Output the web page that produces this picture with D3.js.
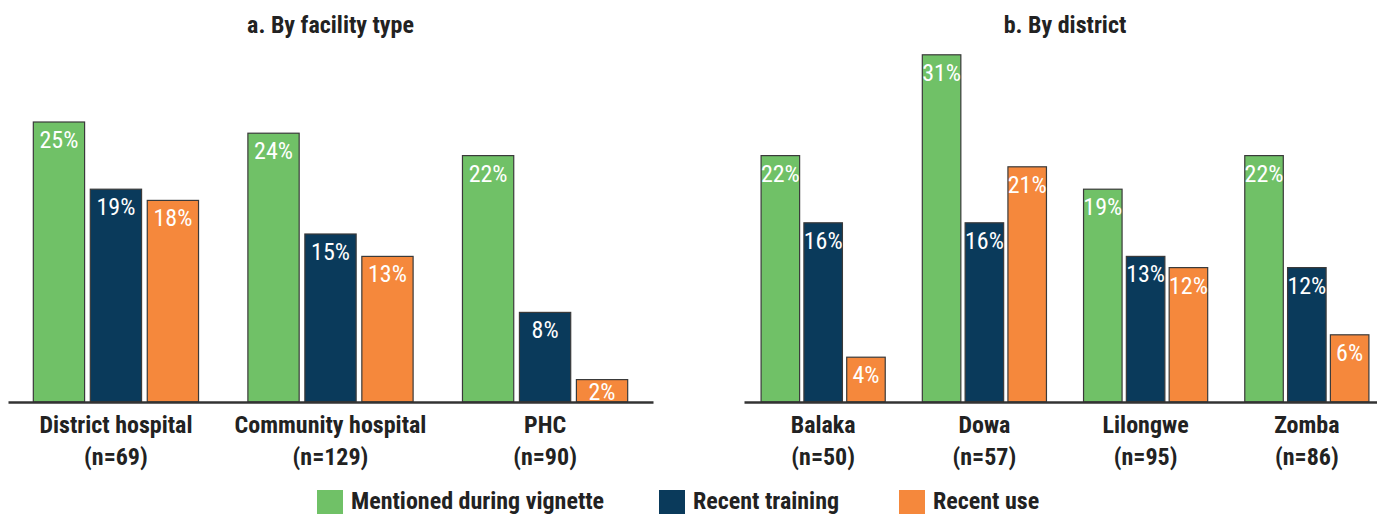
<!DOCTYPE html>
<html>
<head>
<meta charset="utf-8">
<script src="https://cdn.jsdelivr.net/npm/d3@7"></script>
<style>
  body { margin: 0; background: #fff; }
  svg text { font-family: "Roboto Condensed", "Liberation Sans Narrow", "DejaVu Sans Condensed", Roboto, sans-serif; font-stretch: condensed; }
</style>
</head>
<body>
<div id="chart"></div>
<script>
var svgWidth = 1377, svgHeight = 514;

// data
var seriesNames = ["Mentioned during vignette", "Recent training", "Recent use"];
var seriesColors = ["#70c167", "#0a3a5b", "#f5883c"];

var facilityTypes = ["District hospital", "Community hospital", "PHC"];
var facilityN = [69, 129, 90];
var facMentioned = [25, 24, 22];
var facTraining = [19, 15, 8];
var facUse = [18, 13, 2];

var districts = ["Balaka", "Dowa", "Lilongwe", "Zomba"];
var districtN = [50, 57, 95, 86];
var distMentioned = [22, 31, 19, 22];
var distTraining = [16, 16, 13, 12];
var distUse = [4, 21, 12, 6];

var svg = d3.select("#chart")
  .append("svg")
  .attr("width", svgWidth)
  .attr("height", svgHeight);

var baseY = 402;
var y = d3.scaleLinear().domain([0, 35]).range([baseY, baseY - 392]);

function makeRows(cats, ns, a, b, c){
  return cats.map(function(d, i){
    return { cat: d, n: ns[i], vals: [a[i], b[i], c[i]] };
  });
}

function panel(title, rows, x0, x1){
  var outer = d3.scaleBand()
    .domain(rows.map(d => d.cat))
    .range([x0, x1])
    .paddingInner(0.23)
    .paddingOuter(rows.length == 3 ? 0.118 : 0.106);

  var inner = d3.scaleBand()
    .domain([0, 1, 2])
    .range([0, outer.bandwidth()])
    .paddingInner(0.1);

  var g = svg.append("g");

  g.append("text")
    .attr("x", (x0 + x1) / 2)
    .attr("y", 33)
    .attr("text-anchor", "middle")
    .style("font-size", "24px")
    .style("font-weight", "bold")
    .attr("fill", "#222")
    .text(title);

  var groups = g.selectAll("g.grp")
    .data(rows)
    .enter()
    .append("g")
    .attr("class", "grp")
    .attr("transform", d => "translate(" + outer(d.cat) + ",0)");

  var bars = groups.selectAll("g.bar")
    .data(d => d.vals.map((v, i) => ({ v: v, i: i })))
    .enter()
    .append("g")
    .attr("class", "bar");

  bars.append("rect")
    .attr("x", d => inner(d.i))
    .attr("y", d => y(d.v))
    .attr("width", inner.bandwidth())
    .attr("height", d => baseY - y(d.v))
    .attr("fill", d => seriesColors[d.i])
    .attr("stroke", "#3a3a3a")
    .attr("stroke-width", 1.2);

  bars.append("text")
    .attr("x", d => inner(d.i) + inner.bandwidth() / 2)
    .attr("y", d => Math.min(y(d.v) + 26, baseY - 2))
    .attr("text-anchor", "middle")
    .style("font-size", "24px")
    .attr("fill", "#fff")
    .text(d => d.v + "%");

  // baseline
  g.append("g")
    .attr("transform", "translate(0," + baseY + ")")
    .call(d3.axisBottom(outer).tickSize(0).tickFormat(""))
    .call(a => a.select(".domain").attr("stroke", "#333").attr("stroke-width", 2.5));

  groups.append("text")
    .attr("x", outer.bandwidth() / 2)
    .attr("y", 433)
    .attr("text-anchor", "middle")
    .style("font-size", "24px")
    .style("font-weight", "bold")
    .attr("fill", "#222")
    .text(d => d.cat);

  groups.append("text")
    .attr("x", outer.bandwidth() / 2)
    .attr("y", 465)
    .attr("text-anchor", "middle")
    .style("font-size", "24px")
    .style("font-weight", "bold")
    .attr("fill", "#222")
    .text(d => "(n=" + d.n + ")");
}

panel("a. By facility type", makeRows(facilityTypes, facilityN, facMentioned, facTraining, facUse), 8, 653);
panel("b. By district", makeRows(districts, districtN, distMentioned, distTraining, distUse), 744, 1386);

// legend
var legendX = [317, 659, 899];
var legend = svg.selectAll("g.legend")
  .data(seriesNames)
  .enter()
  .append("g")
  .attr("class", "legend")
  .attr("transform", (d, i) => "translate(" + legendX[i] + ",490)");

legend.append("rect")
  .attr("width", 26)
  .attr("height", 26)
  .attr("fill", (d, i) => seriesColors[i]);

legend.append("text")
  .attr("x", 34)
  .attr("y", 19)
  .style("font-size", "24px")
  .style("font-weight", "bold")
  .attr("fill", "#222")
  .text(d => d);
</script>
</body>
</html>
